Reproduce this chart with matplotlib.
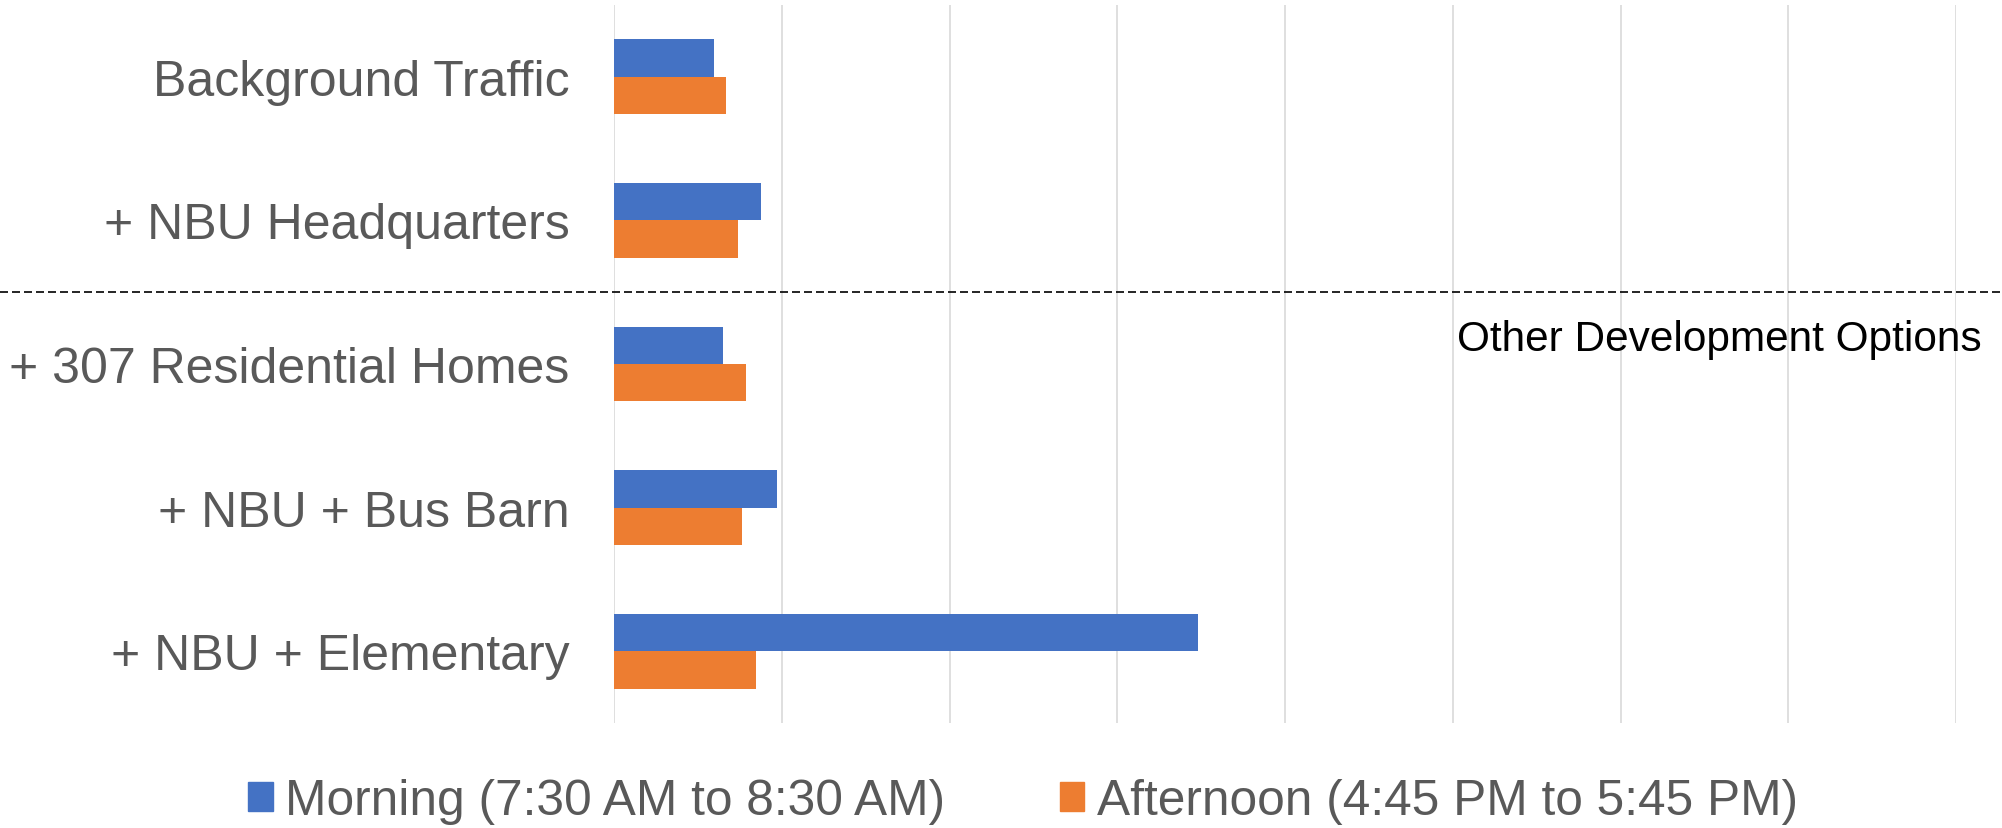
import matplotlib
matplotlib.use('Agg')
import matplotlib.pyplot as plt
from matplotlib.transforms import blended_transform_factory
from matplotlib.patches import Patch
import numpy as np

plt.rcParams['font.family'] = ['Liberation Sans', 'DejaVu Sans']

categories = ['Background Traffic', '+ NBU Headquarters', '+ 307 Residential Homes',
              '+ NBU + Bus Barn', '+ NBU + Elementary']
morning = [59.6, 87.8, 65, 97, 348]
afternoon = [67, 74.2, 78.9, 76.5, 84.5]
labels = ['Morning (7:30 AM to 8:30 AM)', 'Afternoon (4:45 PM to 5:45 PM)']
note = 'Other Development Options'

blue = '#4472C4'
orange = '#ED7D31'
grey = '#595959'

fig = plt.figure(figsize=(20.02, 8.29), dpi=100)
ax = fig.add_axes([614/2002, 1-724/829, 1342/2002, 718/829])

y = np.arange(len(categories))
h = 0.261
ax.barh(y - h/2, morning, height=h, color=blue, zorder=3)
ax.barh(y + h/2, afternoon, height=h, color=orange, zorder=3)

ax.set_xlim(0, 800)
ax.set_ylim(len(categories) - 0.5, -0.5)
ax.set_xticks(np.arange(0, 801, 100))
ax.set_xticklabels([])
ax.set_yticks(y)
ax.set_yticklabels(categories, fontsize=36, color=grey)
ax.tick_params(axis='both', length=0)
ax.tick_params(axis='y', pad=32)
ax.grid(axis='x', color='#d9d9d9', lw=1.2, zorder=0)
for s in ax.spines.values():
    s.set_visible(False)

# dashed separator across the whole figure
tr = blended_transform_factory(fig.transFigure, ax.transData)
ax.plot([0, 1], [1.5, 1.5], transform=tr, color='black', lw=1.2,
        dashes=(4.8, 2.4), clip_on=False, zorder=4)
fig.text(1982/2002, 1-351/829, note, fontsize=30.5, color='black',
         ha='right', va='baseline')

handles = [Patch(color=blue), Patch(color=orange)]
fig.legend(handles, labels, loc='center', bbox_to_anchor=(0.511, 1-802/829),
           ncol=2, frameon=False, fontsize=35.7, handlelength=0.5, handleheight=0.5,
           handletextpad=0.25, columnspacing=2.3, borderpad=0, labelcolor=grey)

fig.savefig('out.png', dpi=100)
